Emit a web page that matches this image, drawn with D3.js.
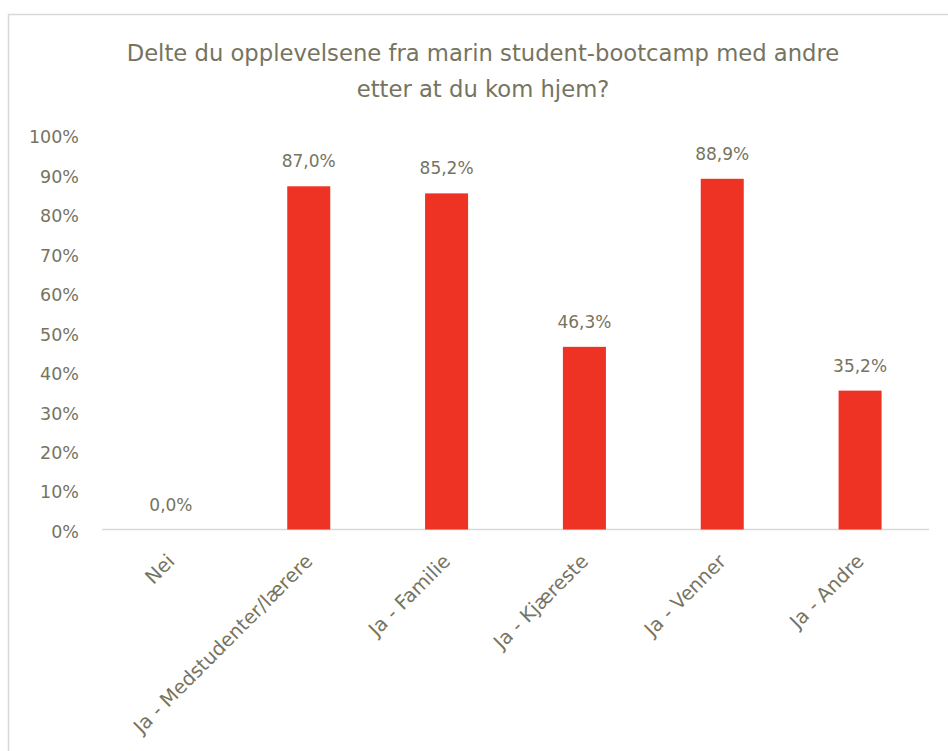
<!DOCTYPE html>
<html>
<head>
<meta charset="utf-8">
<script src="https://cdn.jsdelivr.net/npm/d3@7"></script>
<style>
  body { margin: 0; background: #fff; }
  text { font-family: "DejaVu Sans", sans-serif; fill: #76745f; }
</style>
</head>
<body>
<div id="chart"></div>
<script>
const categories = ['Nei', 'Ja - Medstudenter/lærere', 'Ja - Familie', 'Ja - Kjæreste', 'Ja - Venner', 'Ja - Andre']
const values = [0.0, 87.0, 85.2, 46.3, 88.9, 35.2]
const yTicks = [0, 10, 20, 30, 40, 50, 60, 70, 80, 90, 100]
const titleLines = ['Delte du opplevelsene fra marin student-bootcamp med andre', 'etter at du kom hjem?']

const svgWidth = 948,
    svgHeight = 751,
    margin = { top: 135, right: 19, bottom: 221.5, left: 102 },
    chartWidth = svgWidth - margin.left - margin.right,
    chartHeight = svgHeight - margin.top - margin.bottom

const svg = d3.select('#chart').append('svg')
    .attr('width', svgWidth)
    .attr('height', svgHeight)

// chart border (runs off the right and bottom edge)
svg.append('rect')
    .attr('x', 8.5)
    .attr('y', 14.5)
    .attr('width', 950)
    .attr('height', 760)
    .attr('fill', 'none')
    .attr('stroke', '#d9d9d9')
    .attr('stroke-width', 1.5)

svg.append('g').selectAll('text')
    .data(titleLines)
    .enter()
    .append('text')
    .attr('x', 483)
    .attr('y', (d, i) => 61 + i * 36)
    .attr('text-anchor', 'middle')
    .attr('font-family', '"Open Sans", sans-serif')
    .attr('font-size', 22.7)
    .text(d => d)

let chartGroup = svg.append('g')
    .attr('transform', `translate(${margin.left}, ${margin.top})`)

let x = d3.scaleBand()
    .domain(categories)
    .range([0, chartWidth])
    .paddingInner(0.688)
    .paddingOuter(0.344)

let y = d3.scaleLinear()
    .domain([0, 100])
    .range([chartHeight, 0])

// y axis labels only, no line
let yAxis = chartGroup.append('g')
    .call(d3.axisLeft(y).tickValues(yTicks).tickFormat(d => d + '%').tickSize(0).tickPadding(23))
yAxis.select('.domain').remove()
yAxis.selectAll('text')
    .attr('font-size', 17.5)
    .attr('font-family', '"DejaVu Sans", sans-serif')
    .attr('fill', '#76745f')
    .attr('dy', '0.45em')

// baseline
chartGroup.append('line')
    .attr('x1', 0)
    .attr('x2', chartWidth)
    .attr('y1', y(0))
    .attr('y2', y(0))
    .attr('stroke', '#d9d9d9')
    .attr('stroke-width', 1.5)

chartGroup.append('g')
    .selectAll('rect')
    .data(values)
    .enter()
    .append('rect')
    .attr('x', (d, i) => x(categories[i]))
    .attr('y', d => y(d))
    .attr('width', x.bandwidth())
    .attr('height', d => y(0) - y(d))
    .attr('fill', '#ee3224')

chartGroup.append('g')
    .selectAll('text')
    .data(values)
    .enter()
    .append('text')
    .attr('x', (d, i) => x(categories[i]) + x.bandwidth() / 2)
    .attr('y', d => y(d) - 19)
    .attr('text-anchor', 'middle')
    .attr('font-size', 17)
    .text(d => d.toFixed(1).replace('.', ',') + '%')

// rotated category labels
chartGroup.append('g')
    .selectAll('text')
    .data(categories)
    .enter()
    .append('text')
    .attr('transform', d => `translate(${x(d) + x.bandwidth() / 2 + 5}, ${y(0) + 33}) rotate(-45)`)
    .attr('text-anchor', 'end')
    .attr('font-size', 19.5)
    .text(d => d)
</script>
</body>
</html>
